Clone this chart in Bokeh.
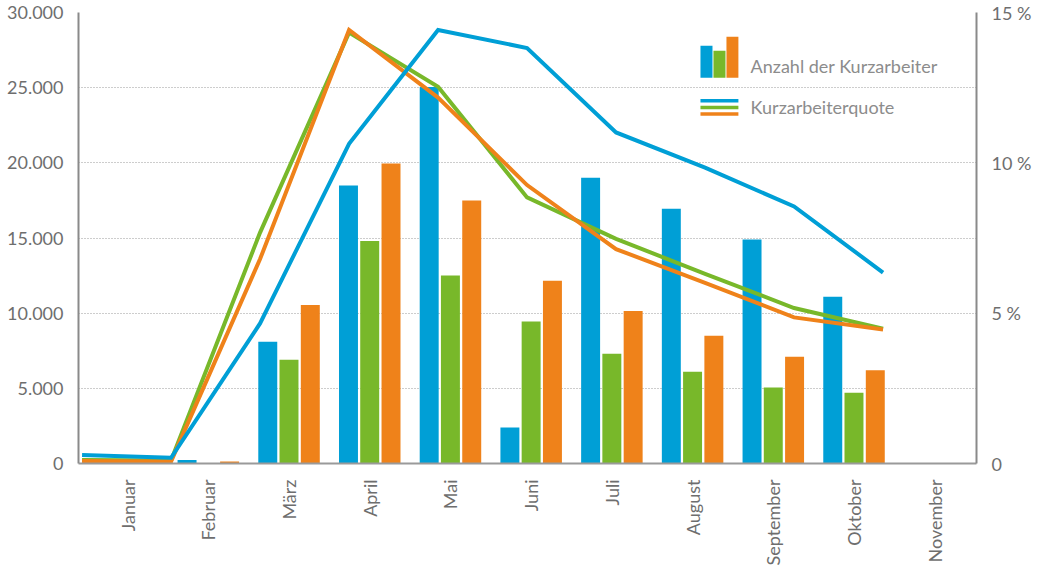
from bokeh.plotting import figure
from bokeh.models import (Range1d, LinearAxis, FixedTicker, ColumnDataSource, Label)
from bokeh.transform import dodge
from bokeh.embed import file_html
from bokeh.resources import INLINE

# Monthly short-time work figures
months = ["Januar", "Februar", "März", "April", "Mai", "Juni", "Juli",
          "August", "September", "Oktober", "November"]
anzahl_a = [0, 230, 8100, 18500, 25050, 2400, 19000, 16950, 14900, 11100, 0]
anzahl_b = [0, 0, 6900, 14800, 12500, 9450, 7300, 6100, 5050, 4700, 0]
anzahl_c = [0, 130, 10550, 19950, 17500, 12150, 10150, 8500, 7100, 6200, 0]

# Quota in percent, January to October
quote_a = [0.28, 0.19, 4.66, 10.63, 14.42, 13.82, 11.01, 9.84, 8.55, 6.35]
quote_b = [0.12, 0.10, 7.68, 14.33, 12.53, 8.85, 7.47, 6.31, 5.17, 4.48]
quote_c = [0.08, 0.07, 6.80, 14.42, 12.17, 9.26, 7.13, 6.01, 4.86, 4.46]

left_ticks = [0, 5000, 10000, 15000, 20000, 25000, 30000]
left_labels = ["0", "5.000", "10.000", "15.000", "20.000", "25.000", "30.000"]
right_ticks = [0, 5, 10, 15]
right_labels = ["0", "5\u202f%", "10\u202f%", "15\u202f%"]

BLUE = "#009fd6"
GREEN = "#78b82a"
ORANGE = "#ef821a"
FONT = "Lato"
TICK_COLOR = "#6e6e6e"
AXIS_COLOR = "#8a8a8a"

p = figure(width=1037, height=568, output_backend="svg", toolbar_location=None,
           x_range=Range1d(-0.608, 10.518), y_range=Range1d(0, 30000),
           min_border_left=78, min_border_right=61, min_border_top=12,
           min_border_bottom=105)
p.extra_y_ranges = {"quote": Range1d(0, 15)}
p.extra_x_ranges = {"linex": Range1d(-0.04, 10.05)}
p.outline_line_color = None
p.background_fill_color = "white"
p.border_fill_color = "white"

# axes
xa = p.xaxis[0]
xa.ticker = FixedTicker(ticks=list(range(len(months))))
xa.major_label_overrides = {i: m for i, m in enumerate(months)}
xa.major_label_orientation = 1.5708
xa.major_tick_out = 0
xa.major_tick_in = 0
xa.minor_tick_out = 0
xa.minor_tick_in = 0
xa.major_label_standoff = 16
xa.axis_line_color = "#9a9a9a"
xa.axis_line_width = 2

ya = p.yaxis[0]
ya.ticker = FixedTicker(ticks=left_ticks)
ya.major_label_overrides = {t: s for t, s in zip(left_ticks, left_labels)}
ya.major_tick_out = 0
ya.major_tick_in = 0
ya.minor_tick_out = 0
ya.minor_tick_in = 0
ya.major_label_standoff = 15
ya.axis_line_color = AXIS_COLOR
ya.axis_line_width = 2

ra = LinearAxis(y_range_name="quote", ticker=FixedTicker(ticks=right_ticks))
ra.major_label_overrides = {t: s for t, s in zip(right_ticks, right_labels)}
ra.major_tick_out = 0
ra.major_tick_in = 0
ra.minor_tick_out = 0
ra.minor_tick_in = 0
ra.major_label_standoff = 15
ra.axis_line_color = AXIS_COLOR
ra.axis_line_width = 2
p.add_layout(ra, "right")

for ax in (xa, ya, ra):
    ax.major_label_text_font = FONT
    ax.major_label_text_font_size = "18px"
    ax.major_label_text_color = TICK_COLOR

p.xgrid.visible = False
p.ygrid.ticker = FixedTicker(ticks=left_ticks[1:])
p.ygrid.grid_line_color = "#9a9a9a"
p.ygrid.grid_line_dash = "1 2"
p.ygrid.grid_line_width = 1

# bars
src = ColumnDataSource(dict(x=list(range(len(months))), a=anzahl_a, b=anzahl_b, c=anzahl_c))
bw = 0.235
p.vbar(x=dodge("x", -0.263, range=p.x_range), top="a", width=bw, bottom=0,
       source=src, fill_color=BLUE, line_color=None)
p.vbar(x=dodge("x", 0.0, range=p.x_range), top="b", width=bw, bottom=0,
       source=src, fill_color=GREEN, line_color=None)
p.vbar(x=dodge("x", 0.264, range=p.x_range), top="c", width=bw, bottom=0,
       source=src, fill_color=ORANGE, line_color=None)

# quota lines
qx = list(range(len(quote_a)))
for vals, col in ((quote_b, GREEN), (quote_c, ORANGE), (quote_a, BLUE)):
    p.line(x=qx, y=vals, x_range_name="linex", y_range_name="quote",
           line_color=col, line_width=4, line_join="miter")

# legend
p.quad(left=[7.098, 7.259, 7.420], right=[7.247, 7.408, 7.568],
       bottom=[25658, 25658, 25658], top=[27786, 27454, 28385],
       fill_color=[BLUE, GREEN, ORANGE], line_color=None)
for yy, col in ((24130, BLUE), (23684, GREEN), (23245, ORANGE)):
    p.line(x=[7.098, 7.568], y=[yy, yy], line_color=col, line_width=3.5)
for yy, txt in ((26456, "Anzahl der Kurzarbeiter"), (23697, "Kurzarbeiterquote")):
    p.add_layout(Label(x=7.719, y=yy, text=txt, text_baseline="middle",
                       text_font=FONT, text_font_size="18px", text_color="#8c8c8c"))

open("out.html", "w").write(file_html(p, INLINE))
